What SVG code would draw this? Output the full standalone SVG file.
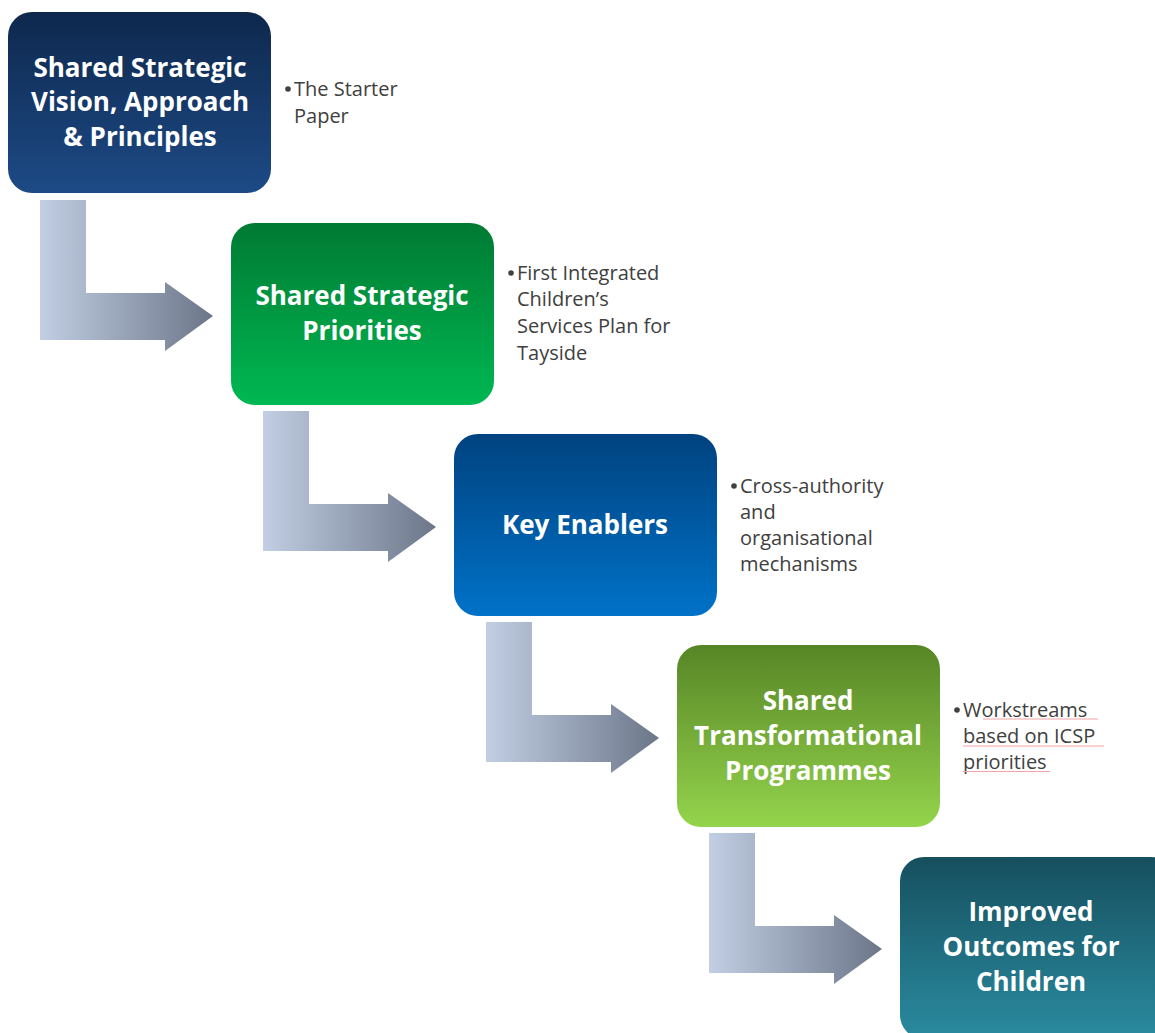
<svg xmlns="http://www.w3.org/2000/svg" width="1155" height="1033" viewBox="0 0 1155 1033">
<defs>
<linearGradient id="g1" x1="0" y1="0" x2="0" y2="1"><stop offset="0" stop-color="#0e284d"/><stop offset="1" stop-color="#1d4a86"/></linearGradient>
<linearGradient id="g2" x1="0" y1="0" x2="0" y2="1"><stop offset="0" stop-color="#007a33"/><stop offset="1" stop-color="#00b852"/></linearGradient>
<linearGradient id="g3" x1="0" y1="0" x2="0" y2="1"><stop offset="0" stop-color="#00427f"/><stop offset="1" stop-color="#0072c8"/></linearGradient>
<linearGradient id="g4" x1="0" y1="0" x2="0" y2="1"><stop offset="0" stop-color="#578526"/><stop offset="1" stop-color="#94d44c"/></linearGradient>
<linearGradient id="g5" x1="0" y1="0" x2="0" y2="1"><stop offset="0" stop-color="#164f5e"/><stop offset="1" stop-color="#2a8ba0"/></linearGradient>
<linearGradient id="ga" x1="0" y1="0" x2="1" y2="0"><stop offset="0" stop-color="#c2cee3"/><stop offset="1" stop-color="#6b7689"/></linearGradient>
<path id="arr" d="M0,0 H46 V93 H125 V82 L173,116 L125,151 V140 H0 Z" fill="url(#ga)"/>
</defs>
<style>
.t{font-family:"Open Sans","Liberation Sans",sans-serif;font-weight:bold;font-size:26px;fill:#fff;text-anchor:middle}
.b{font-family:"Open Sans","Liberation Sans",sans-serif;font-size:20px;fill:#404040}
.d{fill:#404040}
.u{stroke:#f4a4a4;stroke-width:1.2}
</style>
<rect width="1155" height="1033" fill="#fff"/>
<g id="connectors">
<use href="#arr" x="40" y="200"/>
<use href="#arr" x="263" y="411"/>
<use href="#arr" x="486" y="622"/>
<use href="#arr" x="709" y="833"/>
</g>
<g id="n1">
<rect x="8" y="12" width="263" height="181" rx="24" fill="url(#g1)"/>
<text class="t" x="140" y="77">Shared Strategic</text>
<text class="t" x="140" y="111">Vision, Approach</text>
<text class="t" x="140" y="146">&amp; Principles</text>
</g>
<g id="d1">
<circle class="d" cx="288" cy="89" r="2.8"/>
<text class="b" x="294" y="96">The Starter</text>
<text class="b" x="294" y="123">Paper</text>
</g>
<g id="n2">
<rect x="231" y="223" width="263" height="182" rx="24" fill="url(#g2)"/>
<text class="t" x="362" y="305">Shared Strategic</text>
<text class="t" x="362" y="340">Priorities</text>
</g>
<g id="d2">
<circle class="d" cx="511" cy="273" r="2.8"/>
<text class="b" x="517" y="280">First Integrated</text>
<text class="b" x="517" y="306">Children’s</text>
<text class="b" x="517" y="333">Services Plan for</text>
<text class="b" x="517" y="360">Tayside</text>
</g>
<g id="n3">
<rect x="454" y="434" width="263" height="182" rx="24" fill="url(#g3)"/>
<text class="t" x="585" y="534">Key Enablers</text>
</g>
<g id="d3">
<circle class="d" cx="734" cy="486" r="2.8"/>
<text class="b" x="740" y="493">Cross-authority</text>
<text class="b" x="740" y="519">and</text>
<text class="b" x="740" y="545">organisational</text>
<text class="b" x="740" y="571">mechanisms</text>
</g>
<g id="n4">
<rect x="677" y="645" width="263" height="182" rx="24" fill="url(#g4)"/>
<text class="t" x="808" y="710">Shared</text>
<text class="t" x="808" y="745">Transformational</text>
<text class="t" x="808" y="780">Programmes</text>
</g>
<g id="d4">
<circle class="d" cx="957" cy="710" r="2.8"/>
<text class="b" x="963" y="717">Workstreams</text>
<text class="b" x="963" y="743">based on ICSP</text>
<text class="b" x="963" y="769">priorities</text>
<line class="u" x1="983" y1="719" x2="1098" y2="719"/>
<line class="u" x1="963" y1="746" x2="1104" y2="746"/>
<line class="u" x1="963" y1="771.5" x2="1050" y2="771.5"/>
</g>
<g id="n5">
<rect x="900" y="857" width="275" height="182" rx="24" fill="url(#g5)"/>
<text class="t" x="1031" y="921">Improved</text>
<text class="t" x="1031" y="956">Outcomes for</text>
<text class="t" x="1031" y="991">Children</text>
</g>
</svg>
